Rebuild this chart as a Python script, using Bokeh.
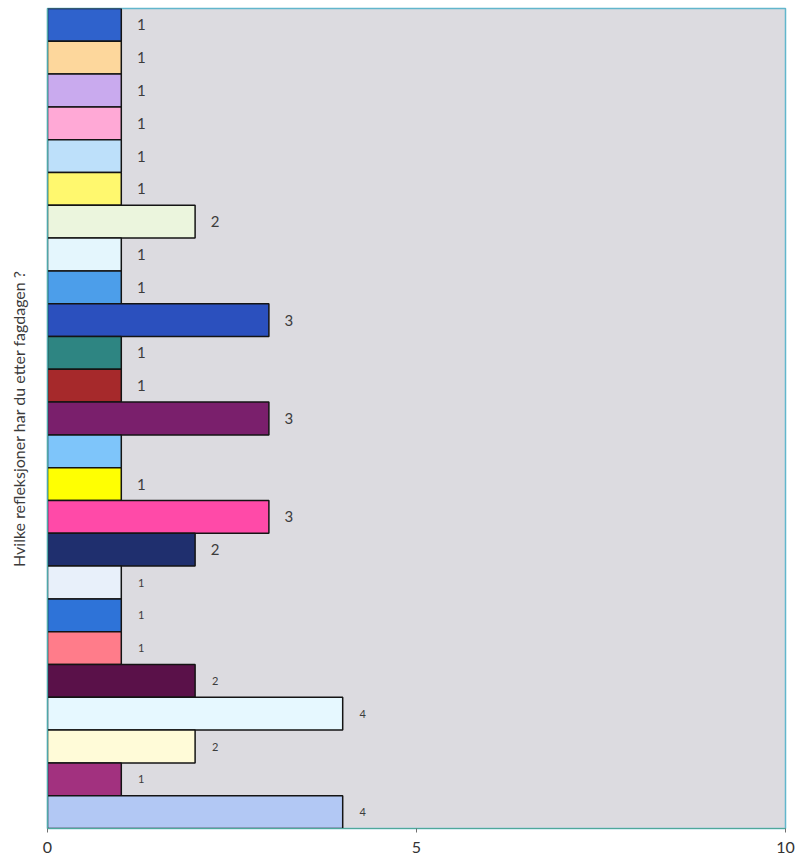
from bokeh.plotting import figure
from bokeh.models import ColumnDataSource, Range1d, FixedTicker
from bokeh.core.properties import value
from bokeh.embed import file_html
from bokeh.resources import INLINE

# Responses, listed top to bottom
counts = [1, 1, 1, 1, 1, 1, 2, 1, 1, 3, 1, 1, 3, 1, 1, 3, 2, 1, 1, 1, 2, 4, 2, 1, 4]
labels = ["1", "1", "1", "1", "1", "1", "2", "1", "1", "3", "1", "1", "3", "", "1",
          "3", "2", "1", "1", "1", "2", "4", "2", "1", "4"]
x_ticks = [0, 5, 10]
axis_title = "Hvilke refleksjoner har du etter fagdagen ?"

palette = ["#2F62CC", "#FDD79C", "#C9AAEE", "#FFA9D6", "#BDE0FA", "#FFF86E",
           "#EBF5DD", "#E4F6FD", "#4C9EEA", "#2B50BE", "#2E8582", "#A6292B",
           "#7A1F6C", "#7EC5FA", "#FFFF02", "#FF4AA8", "#1F2F6E", "#E8F0FA",
           "#2E73D8", "#FF7C8A", "#5A1149", "#E6F8FF", "#FFFBD8", "#A2317F",
           "#B2C8F4"]

n = len(counts)
ypos = [n - i for i in range(n)]
sizes = ["15px" if i < 17 else "11px" for i in range(n)]

src = ColumnDataSource(dict(y=ypos, v=counts, lab=labels, col=palette, fs=sizes))

p = figure(width=795, height=864, output_backend="svg", toolbar_location=None,
           x_range=Range1d(0, 10), y_range=Range1d(0.5, n + 0.5),
           min_border_left=47, min_border_right=10, min_border_top=8,
           min_border_bottom=36)

p.border_fill_color = "white"
p.background_fill_color = "#DCDBE0"
p.outline_line_color = "#62B6CC"
p.outline_line_width = 1.5
p.grid.visible = False

p.hbar(y="y", left=0, right="v", height=1, fill_color="col",
       line_color="#141414", line_width=1.5, source=src)

p.text(x="v", y="y", text="lab", x_offset=20, text_align="center",
       text_baseline="middle", text_font=value("Lato"), text_font_size="fs",
       text_color="#3C3C3C", source=src)

xa = p.xaxis[0]
xa.ticker = FixedTicker(ticks=x_ticks)
xa.minor_tick_line_color = None
xa.major_tick_in = 0
xa.major_tick_out = 4
xa.axis_line_color = "#4FA89A"
xa.axis_line_width = 1.2
xa.major_tick_line_color = "#707070"
xa.major_label_text_font = "Lato"
xa.major_label_text_font_size = "16px"
xa.major_label_text_color = "#333333"
xa.major_label_standoff = 9

ya = p.yaxis[0]
ya.ticker = FixedTicker(ticks=[])
ya.minor_tick_line_color = None
ya.major_tick_line_color = None
ya.major_label_text_font_size = "0px"
ya.axis_line_color = "#4FA8A8"
ya.axis_line_width = 1.2
ya.axis_label = axis_title
ya.axis_label_text_font = "Lato"
ya.axis_label_text_font_style = "normal"
ya.axis_label_text_font_size = "16px"
ya.axis_label_text_color = "#3A3A3A"
ya.axis_label_standoff = 20

open("out.html", "w").write(file_html(p, INLINE))
